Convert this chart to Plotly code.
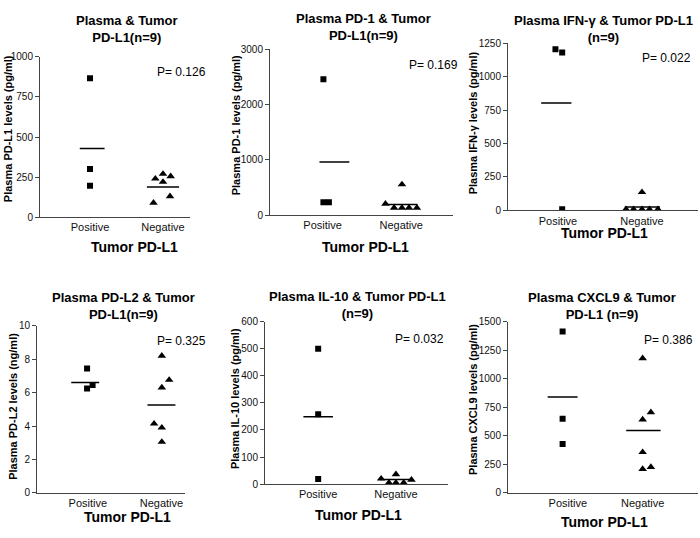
import plotly.graph_objects as go

W, H = 700, 538
FONT = "Liberation Sans, Arial, sans-serif"

categories = ["Positive", "Negative"]

titles = [
    "Plasma &amp; Tumor<br>PD-L1(n=9)",
    "Plasma PD-1 &amp; Tumor<br>PD-L1(n=9)",
    "Plasma IFN-γ &amp; Tumor PD-L1<br>(n=9)",
    "Plasma PD-L2 &amp; Tumor<br>PD-L1(n=9)",
    "Plasma IL-10 &amp; Tumor PD-L1<br>(n=9)",
    "Plasma CXCL9 &amp; Tumor<br>PD-L1 (n=9)",
]
y_titles = [
    "Plasma PD-L1 levels (pg/ml)",
    "Plasma PD-1 levels (pg/ml)",
    "Plasma IFN-γ levels (pg/ml)",
    "Plasma PD-L2 levels (ng/ml)",
    "Plasma IL-10 levels (pg/ml)",
    "Plasma CXCL9 levels (pg/ml)",
]
x_title = "Tumor PD-L1"
p_values = ["P= 0.126", "P= 0.169", "P= 0.022", "P= 0.325", "P= 0.032", "P= 0.386"]
y_ticks = [
    [0, 250, 500, 750, 1000],
    [0, 1000, 2000, 3000],
    [0, 250, 500, 750, 1000, 1250],
    [0, 2, 4, 6, 8, 10],
    [0, 100, 200, 300, 400, 500, 600],
    [0, 250, 500, 750, 1000, 1250, 1500],
]

# Values
positive_values = [
    [866, 301, 196],
    [2455, 235, 235],
    [1205, 1180, 8],
    [7.44, 6.45, 6.25],
    [500, 258, 19],
    [1414, 651, 429],
]
negative_values = [
    [270, 255, 240, 220, 130, 90],
    [555, 205, 135, 135, 135, 135],
    [136, 8, 8, 8, 8, 8],
    [8.2, 6.76, 6.3, 4.14, 3.9, 3.05],
    [36, 20, 16, 5, 5, 5],
    [1180, 706, 643, 357, 226, 209],
]
positive_means = [428, 960, 803, 6.6, 249, 840]
negative_means = [189, 194, 25, 5.26, 17, 546]

# scatter (jitter) offsets of the dots around each category, in category units
positive_jitter = [
    [0, 0, 0],
    [0.01, 0.01, 0.08],
    [-0.03, 0.05, 0.05],
    [-0.01, 0.065, -0.01],
    [0, 0, 0],
    [-0.07, -0.07, -0.07],
]
negative_jitter = [
    [0, 0.105, -0.105, 0, 0.096, -0.13],
    [0.01, -0.2, -0.09, 0.01, 0.1, 0.2],
    [0, -0.19, -0.1, 0, 0.09, 0.19],
    [0.005, 0.105, 0.005, -0.1, 0.005, 0.005],
    [0, -0.19, 0.2, -0.09, 0, 0.1],
    [0, 0.11, 0, 0, 0.11, 0],
]

# ---------- layout / style ----------
# panel plot areas in pixels: (left, right, top, bottom)
boxes = [
    (40, 190, 52, 216),
    (270, 453, 44, 214),
    (508, 698, 38, 209),
    (37, 185, 327, 498),
    (265, 448, 323, 489),
    (508, 698, 323, 498),
]
x_ranges = [(0.315, 2.37), (0.33, 2.66), (0.405, 2.667), (0.31, 2.32), (0.316, 2.67), (0.2, 2.74)]
pos_line_shift = [0.03, 0.15, -0.02, -0.035, 0, -0.07]
neg_line_shift = [0, 0.02, 0.005, 0, 0, 0.01]
half_widths = [(0.17, 0.22), (0.19, 0.19), (0.18, 0.21), (0.19, 0.19), (0.19, 0.21), (0.2, 0.23)]
title_pos = [(127, 23.5), (363, 21), (603, 23.5), (123, 306.5), (357, 306), (602, 306.5)]
ytitle_pos = [(8, 126), (236, 122), (473, 120), (13, 410), (235, 401), (473, 403)]
xtitle_pos = [(134, 247), (365, 246), (604, 232), (127, 523), (358, 521), (604, 528)]
p_pos = [(208, 68), (460, 60), (693, 53), (208, 343), (446, 341), (695, 342)]


def px(x):
    return x / W


def py(y):
    return 1 - y / H


fig = go.Figure()
annotations = []
for i in range(6):
    ax = "" if i == 0 else str(i + 1)
    xa, ya = "x" + ax, "y" + ax
    l, r, t, b = boxes[i]
    fig.update_layout(**{
        "xaxis" + ax: dict(
            domain=[px(l), px(r)], range=list(x_ranges[i]), anchor=ya,
            tickvals=[1, 2], ticktext=categories, ticks="", showgrid=False,
            zeroline=False, showline=True, linecolor="#444", linewidth=1,
            tickfont=dict(family=FONT, size=11, color="#111"), fixedrange=True,
        ),
        "yaxis" + ax: dict(
            domain=[py(b), py(t)], range=[0, y_ticks[i][-1]], anchor=xa,
            tickvals=y_ticks[i], ticks="outside", ticklen=4, tickwidth=1,
            tickcolor="#444", showgrid=False, zeroline=False, showline=True,
            linecolor="#444", linewidth=1,
            tickfont=dict(family=FONT, size=10, color="#111"), fixedrange=True,
        ),
    })
    pv = positive_values[i]
    nv = negative_values[i]
    fig.add_trace(go.Scatter(
        x=[1 + j for j in positive_jitter[i]], y=pv, mode="markers", xaxis=xa, yaxis=ya,
        marker=dict(symbol="square", size=6, color="black"), showlegend=False,
    ))
    fig.add_trace(go.Scatter(
        x=[2 + j for j in negative_jitter[i]], y=nv, mode="markers", xaxis=xa, yaxis=ya,
        marker=dict(symbol="triangle-up", size=7.5, color="black"), showlegend=False,
    ))
    hp, hn = half_widths[i]
    cp = 1 + pos_line_shift[i]
    cn = 2 + neg_line_shift[i]
    fig.add_trace(go.Scatter(
        x=[cp - hp, cp + hp], y=[positive_means[i]] * 2, mode="lines", xaxis=xa, yaxis=ya,
        line=dict(color="black", width=1.5), showlegend=False,
    ))
    fig.add_trace(go.Scatter(
        x=[cn - hn, cn + hn], y=[negative_means[i]] * 2, mode="lines", xaxis=xa, yaxis=ya,
        line=dict(color="black", width=1.5), showlegend=False,
    ))
    tx, ty = title_pos[i]
    annotations.append(dict(
        text="<b>" + titles[i] + "</b>", x=px(tx), y=py(ty), xref="paper", yref="paper",
        xanchor="center", yanchor="middle", showarrow=False,
        font=dict(family=FONT, size=13, color="black"),
    ))
    yx, yy = ytitle_pos[i]
    annotations.append(dict(
        text="<b>" + y_titles[i] + "</b>", x=px(yx), y=py(yy), xref="paper", yref="paper",
        xanchor="center", yanchor="middle", textangle=-90, showarrow=False,
        font=dict(family=FONT, size=11, color="black"),
    ))
    xx, xy = xtitle_pos[i]
    annotations.append(dict(
        text="<b>" + x_title + "</b>", x=px(xx), y=py(xy), xref="paper", yref="paper",
        xanchor="center", yanchor="middle", showarrow=False,
        font=dict(family=FONT, size=14, color="black"),
    ))
    pxx, pyy = p_pos[i]
    annotations.append(dict(
        text=p_values[i], x=px(pxx), y=py(pyy), xref="paper", yref="paper",
        xanchor="right", yanchor="middle", showarrow=False,
        font=dict(family=FONT, size=12, color="black"),
    ))

fig.update_layout(
    width=W, height=H, margin=dict(l=0, r=0, t=0, b=0),
    paper_bgcolor="white", plot_bgcolor="white", annotations=annotations,
    showlegend=False,
)
fig.write_html(
    "out.html",
    config={"displayModeBar": False},
    post_script="document.body.style.margin='0';document.body.style.overflow='hidden';",
)
